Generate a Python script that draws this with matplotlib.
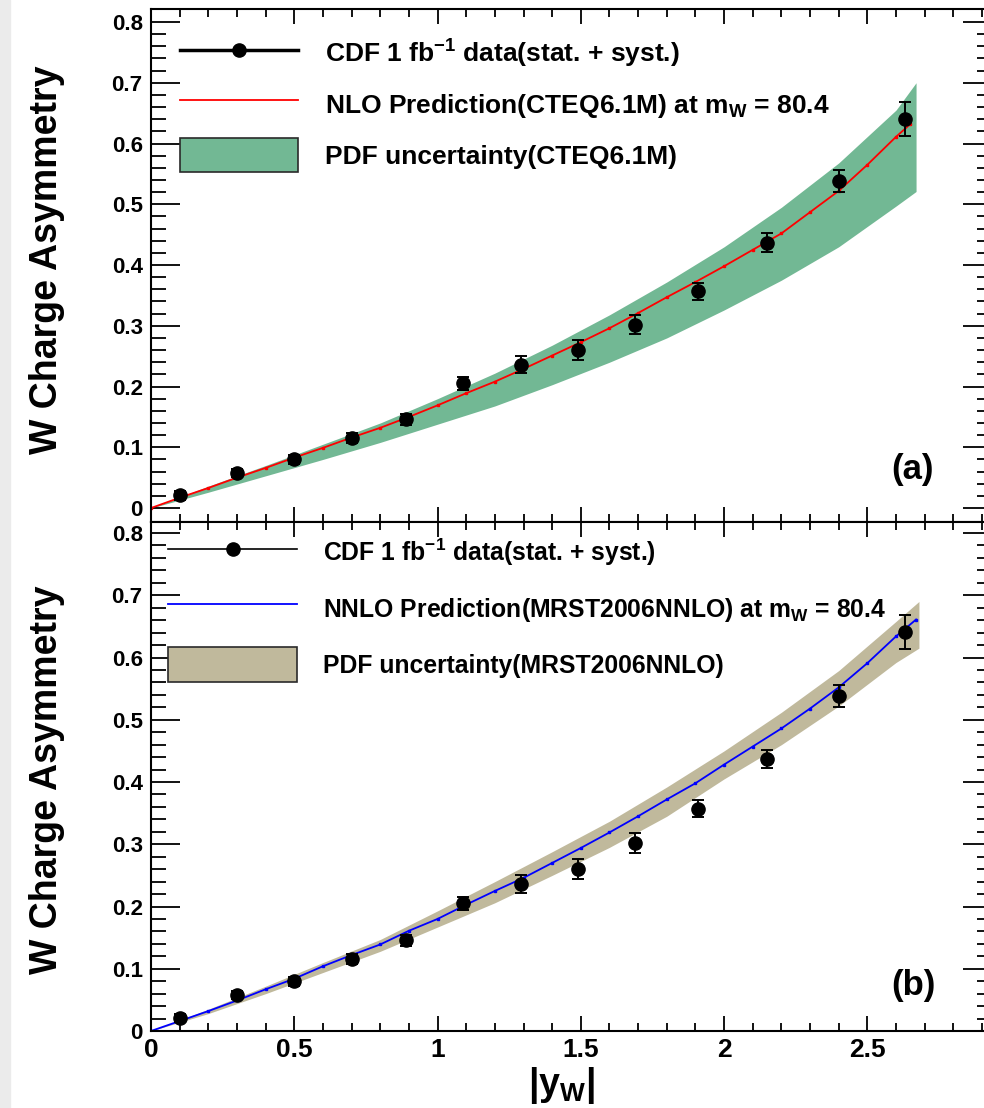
import matplotlib
matplotlib.use("Agg")
import matplotlib.pyplot as plt
from matplotlib.lines import Line2D
from matplotlib.patches import Patch, Rectangle

plt.rcParams['font.family'] = ['Liberation Sans', 'DejaVu Sans']
plt.rcParams['font.weight'] = 'bold'
plt.rcParams['mathtext.fontset'] = 'custom'
plt.rcParams['mathtext.rm'] = 'Liberation Sans:bold'
plt.rcParams['mathtext.bf'] = 'Liberation Sans:bold'
plt.rcParams['mathtext.it'] = 'Liberation Sans:bold'

# -----------------------------
# data
# -----------------------------
# CDF 1 fb^-1 W charge asymmetry
cdf_y = [0.10, 0.30, 0.50, 0.70, 0.89, 1.09, 1.29, 1.49, 1.69, 1.91, 2.15, 2.40, 2.63]
cdf_asym = [0.021, 0.058, 0.080, 0.115, 0.146, 0.205, 0.236, 0.260, 0.302, 0.357, 0.437, 0.538, 0.641]
cdf_err = [0.007, 0.007, 0.007, 0.008, 0.009, 0.010, 0.014, 0.016, 0.016, 0.014, 0.015, 0.018, 0.028]

# NLO prediction, CTEQ6.1M
nlo_x = [0.0, 0.1, 0.2, 0.3, 0.4, 0.5, 0.6, 0.7, 0.8, 0.9, 1.0, 1.1, 1.2, 1.3,
         1.4, 1.5, 1.6, 1.7, 1.8, 1.9, 2.0, 2.1, 2.2, 2.3, 2.4, 2.5, 2.6, 2.65]
nlo_asym = [0.0, 0.017, 0.033, 0.050, 0.066, 0.083, 0.099, 0.116, 0.132, 0.150,
            0.169, 0.189, 0.208, 0.229, 0.251, 0.273, 0.296, 0.321, 0.347, 0.372,
            0.398, 0.425, 0.452, 0.487, 0.522, 0.565, 0.611, 0.632]

# CTEQ6.1M PDF uncertainty band
cteq_x = [0.0, 0.2, 0.4, 0.6, 0.8, 1.0, 1.2, 1.4, 1.6, 1.8, 2.0, 2.2, 2.4, 2.6, 2.67]
cteq_hi = [0.0, 0.036, 0.070, 0.105, 0.140, 0.180, 0.222, 0.268, 0.318, 0.372,
           0.430, 0.495, 0.568, 0.655, 0.700]
cteq_lo = [0.0, 0.026, 0.053, 0.080, 0.108, 0.138, 0.168, 0.203, 0.240, 0.280,
           0.326, 0.375, 0.430, 0.497, 0.521]

# NNLO prediction, MRST2006NNLO
nnlo_x = [0.0, 0.1, 0.2, 0.3, 0.4, 0.5, 0.6, 0.7, 0.8, 0.9, 1.0, 1.1, 1.2, 1.3,
          1.4, 1.5, 1.6, 1.7, 1.8, 1.9, 2.0, 2.1, 2.2, 2.3, 2.4, 2.5, 2.6, 2.67]
nnlo_asym = [0.0, 0.016, 0.032, 0.049, 0.067, 0.084, 0.104, 0.122, 0.139, 0.161,
             0.180, 0.203, 0.225, 0.246, 0.270, 0.294, 0.319, 0.345, 0.372, 0.398,
             0.428, 0.457, 0.486, 0.518, 0.552, 0.591, 0.634, 0.661]

# MRST2006NNLO PDF uncertainty band
mrst_x = [0.0, 0.2, 0.4, 0.6, 0.8, 1.0, 1.2, 1.4, 1.6, 1.8, 2.0, 2.2, 2.4, 2.6, 2.68]
mrst_hi = [0.0, 0.035, 0.072, 0.110, 0.147, 0.193, 0.240, 0.288, 0.337, 0.392,
           0.450, 0.512, 0.579, 0.658, 0.690]
mrst_lo = [0.0, 0.028, 0.060, 0.094, 0.128, 0.167, 0.206, 0.250, 0.295, 0.345,
           0.405, 0.460, 0.522, 0.592, 0.615]

# axis ticks
xticks = [0.0, 0.5, 1.0, 1.5, 2.0, 2.5]
xtick_labels = ['0', '0.5', '1', '1.5', '2', '2.5']
yticks = [0.0, 0.1, 0.2, 0.3, 0.4, 0.5, 0.6, 0.7, 0.8]
ytick_labels = ['0', '0.1', '0.2', '0.3', '0.4', '0.5', '0.6', '0.7', '0.8']

green = '#72b894'
tan = '#c0b99c'

# -----------------------------
# figure layout (pixels -> figure fraction)
# -----------------------------
W, H = 984, 1108
fig = plt.figure(figsize=(W / 100, H / 100), dpi=100)
fig.patches.append(Rectangle((0, 0), 10 / W, 1, transform=fig.transFigure,
                             color='#ebebeb', zorder=-5))

left, right = 151, 992
ax_a = fig.add_axes([left / W, 1 - 522 / H, (right - left) / W, (522 - 9) / H])
ax_b = fig.add_axes([left / W, 1 - 1031 / H, (right - left) / W, (1031 - 522) / H])


def style_axes(ax, ylim, show_x):
    ax.set_xlim(0, 2.935)
    ax.set_ylim(*ylim)
    for s in ax.spines.values():
        s.set_linewidth(1.5)
    ax.set_xticks(xticks)
    ax.set_xticks([v / 10 for v in range(0, 30)], minor=True)
    ax.set_yticks(yticks)
    ax.set_yticks([v / 50 for v in range(0, 41)], minor=True)
    ax.set_yticklabels(ytick_labels)
    if show_x:
        ax.set_xticklabels(xtick_labels)
    else:
        ax.set_xticklabels([])
    ax.tick_params(axis='both', which='both', direction='in',
                   top=True, right=True, width=1.3)
    ax.tick_params(axis='x', which='major', length=11, labelsize=19, pad=5)
    ax.tick_params(axis='x', which='minor', length=5.5)
    ax.tick_params(axis='y', which='major', length=21, labelsize=16, pad=6)
    ax.tick_params(axis='y', which='minor', length=11)


# -----------------------------
# panel (a): NLO CTEQ6.1M
# -----------------------------
fs_a = 19
em_a = fs_a * 100 / 72   # legend font size in pixels

ax_a.fill_between(cteq_x, cteq_lo, cteq_hi, color=green, lw=0, zorder=1)
ax_a.plot(nlo_x, nlo_asym, '-', color='red', lw=1.3, marker='s', ms=2, zorder=2)
ax_a.errorbar(cdf_y, cdf_asym, yerr=cdf_err, fmt='o', color='black', ms=9.5,
              elinewidth=1.4, capsize=4.5, capthick=1.4, zorder=3)
style_axes(ax_a, (-0.023, 0.8214), False)

handles_a = [
    Line2D([], [], color='black', lw=2.5, marker='o', ms=9.5),
    Line2D([], [], color='red', lw=1.3),
    Patch(facecolor=green, edgecolor='#2a2a2a', lw=1.2),
]
labels_a = [r'CDF 1 fb$^{-1}$ data(stat. + syst.)',
            r'NLO Prediction(CTEQ6.1M) at m$_{W}$ = 80.4',
            'PDF uncertainty(CTEQ6.1M)']
ax_a.legend(handles_a, labels_a, loc='upper left', bbox_to_anchor=(29 / 841, 1 - 28 / 513),
            frameon=False, fontsize=fs_a, borderpad=0, borderaxespad=0,
            handlelength=118 / em_a, handleheight=43 / em_a, labelspacing=16 / em_a,
            handletextpad=27 / em_a)
ax_a.text(0.906, 0.102, '(a)', transform=ax_a.transAxes, fontsize=25,
          ha='center', va='center')

# -----------------------------
# panel (b): NNLO MRST2006NNLO
# -----------------------------
fs_b = 17.8
em_b = fs_b * 100 / 72

ax_b.fill_between(mrst_x, mrst_lo, mrst_hi, color=tan, lw=0, zorder=1)
ax_b.plot(nnlo_x, nnlo_asym, '-', color='blue', lw=1.3, marker='s', ms=2, zorder=2)
ax_b.errorbar(cdf_y, cdf_asym, yerr=cdf_err, fmt='o', color='black', ms=9.5,
              elinewidth=1.4, capsize=4.5, capthick=1.4, zorder=3)
style_axes(ax_b, (0, 0.8177), True)

handles_b = [
    Line2D([], [], color='black', lw=1.2, marker='o', ms=9.5),
    Line2D([], [], color='blue', lw=1.3),
    Patch(facecolor=tan, edgecolor='#2a2a2a', lw=1.2),
]
labels_b = [r'CDF 1 fb$^{-1}$ data(stat. + syst.)',
            r'NNLO Prediction(MRST2006NNLO) at m$_{W}$ = 80.4',
            'PDF uncertainty(MRST2006NNLO)']
ax_b.legend(handles_b, labels_b, loc='upper left', bbox_to_anchor=(17 / 841, 1 - 14 / 509),
            frameon=False, fontsize=fs_b, borderpad=0, borderaxespad=0,
            handlelength=129 / em_b, handleheight=44 / em_b, labelspacing=21 / em_b,
            handletextpad=26 / em_b)
ax_b.text(0.906, 0.09, '(b)', transform=ax_b.transAxes, fontsize=25,
          ha='center', va='center')

# axis titles
fig.text(47 / W, 1 - 260 / H, 'W Charge Asymmetry', rotation=90, fontsize=27,
         ha='center', va='center')
fig.text(47 / W, 1 - 780 / H, 'W Charge Asymmetry', rotation=90, fontsize=27,
         ha='center', va='center')
fig.text(562 / W, 1 - 1086 / H, r'|y$_{W}$|', fontsize=27, ha='center', va='center')

fig.savefig('out.png', dpi=100)
